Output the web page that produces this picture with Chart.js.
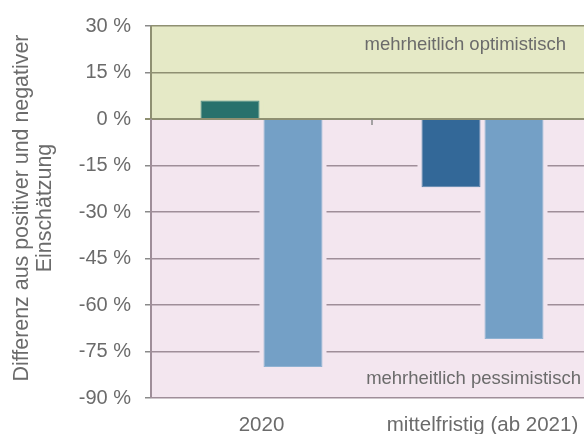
<!DOCTYPE html>
<html>
<head>
<meta charset="utf-8">
<script src="https://cdn.jsdelivr.net/npm/chart.js@4.4.0/dist/chart.umd.min.js"></script>
<style>
  html, body { margin: 0; padding: 0; overflow: hidden; background: #fff; }
</style>
</head>
<body>
<canvas id="chart" width="600" height="434"></canvas>
<script>
// --- Daten ---
const KATEGORIEN = ['2020', 'mittelfristig (ab 2021)'];
const WERTE_A = [6, -22];
const WERTE_B = [-80, -71];
const Y_MIN = -90;
const Y_MAX = 30;
const Y_SCHRITT = 15;
const Y_TITEL = ['Differenz aus positiver und negativer', 'Einschätzung'];

// --- Farben ---
const FARBEN_A = ['#28716c', '#336898'];
const RAND_A = ['#4f8f8a', '#5a83aa'];
const FARBE_B = '#74a0c6';
const GRUEN = '#e5e9c6';
const ROSA = '#f3e6ef';
const LINIE_GRUEN = '#8f9072';
const LINIE_ROSA = '#9f8e99';
const TEXT = '#6b6b6b';
const SCHRIFT = "'Liberation Sans', Arial, sans-serif";

const flaechen = {
  id: 'flaechen',
  beforeDraw(chart) {
    const { ctx, chartArea: a, scales: { y } } = chart;
    const y0 = y.getPixelForValue(0);
    ctx.save();
    ctx.fillStyle = GRUEN;
    ctx.fillRect(a.left, a.top, a.right - a.left, y0 - a.top);
    ctx.fillStyle = ROSA;
    ctx.fillRect(a.left, y0, a.right - a.left, a.bottom - y0);
    ctx.restore();
  },
  beforeDatasetsDraw(chart) {
    // Luecke in den Gitterlinien neben den Balken
    const { ctx } = chart;
    ctx.save();
    chart.data.datasets.forEach((ds, i) => {
      chart.getDatasetMeta(i).data.forEach(bar => {
        const { x, y, base, width } = bar.getProps(['x', 'y', 'base', 'width'], true);
        ctx.fillStyle = y < base ? GRUEN : ROSA;
        ctx.fillRect(x - width / 2 - 4, Math.min(y, base), width + 8, Math.abs(base - y));
      });
    });
    ctx.restore();
  },
  afterDatasetsDraw(chart) {
    const { ctx, chartArea: a, scales: { x, y } } = chart;
    const y0 = y.getPixelForValue(0);
    ctx.save();
    ctx.strokeStyle = LINIE_GRUEN;
    ctx.lineWidth = 2;
    ctx.beginPath();
    ctx.moveTo(a.left - 6, y0);
    ctx.lineTo(a.right, y0);
    ctx.stroke();
    // kleiner Teilstrich zwischen den Kategorien
    const xm = (x.getPixelForValue(0) + x.getPixelForValue(1)) / 2;
    ctx.strokeStyle = '#8a8a8a';
    ctx.lineWidth = 1.5;
    ctx.beginPath();
    ctx.moveTo(xm, y0);
    ctx.lineTo(xm, y0 + 6);
    ctx.stroke();
    // linke Achse
    ctx.lineWidth = 2;
    ctx.strokeStyle = LINIE_GRUEN;
    ctx.beginPath();
    ctx.moveTo(a.left, a.top);
    ctx.lineTo(a.left, y0);
    ctx.stroke();
    ctx.strokeStyle = LINIE_ROSA;
    ctx.beginPath();
    ctx.moveTo(a.left, y0);
    ctx.lineTo(a.left, a.bottom);
    ctx.stroke();
    // Beschriftung der Bereiche
    ctx.fillStyle = TEXT;
    ctx.font = '18.5px ' + SCHRIFT;
    ctx.textBaseline = 'middle';
    ctx.textAlign = 'right';
    ctx.fillText('mehrheitlich optimistisch', a.right - 27, y.getPixelForValue(24));
    ctx.fillText('mehrheitlich pessimistisch', a.right - 12, y.getPixelForValue(-84));
    // Achsentitel
    ctx.font = '21.4px ' + SCHRIFT;
    ctx.textAlign = 'center';
    ctx.textBaseline = 'alphabetic';
    const ym = (a.top + a.bottom) / 2 - 4;
    [28, 51].forEach((bx, i) => {
      ctx.save();
      ctx.translate(bx, ym);
      ctx.rotate(-Math.PI / 2);
      ctx.fillText(Y_TITEL[i], 0, 0);
      ctx.restore();
    });
    ctx.restore();
  }
};

new Chart(document.getElementById('chart'), {
  type: 'bar',
  data: {
    labels: KATEGORIEN,
    datasets: [
      {
        data: WERTE_A,
        backgroundColor: FARBEN_A,
        borderColor: RAND_A,
        borderWidth: 1,
        categoryPercentage: 0.57,
        barPercentage: 0.937,
      },
      {
        data: WERTE_B,
        backgroundColor: FARBE_B,
        borderColor: '#8fb2d2',
        borderWidth: 1,
        categoryPercentage: 0.57,
        barPercentage: 0.937,
      },
    ],
  },
  options: {
    responsive: false,
    animation: false,
    layout: { padding: { top: 23, right: 7, left: 0, bottom: 0 } },
    plugins: {
      legend: { display: false },
      tooltip: { enabled: false },
    },
    scales: {
      x: {
        grid: { display: false, drawTicks: false },
        border: { display: false },
        ticks: {
          color: TEXT,
          font: { family: SCHRIFT, size: 20.5 },
          padding: 15,
          maxRotation: 0,
        },
        afterFit: scale => { scale.height = 36; },
      },
      y: {
        min: Y_MIN,
        max: Y_MAX,
        border: { display: false },
        grid: {
          lineWidth: 1.5,
          tickLength: 6,
          color: c => (c.tick.value > 0 ? LINIE_GRUEN : c.tick.value === 0 ? 'rgba(0,0,0,0)' : LINIE_ROSA),
          tickColor: '#8a8a8a',
        },
        ticks: {
          stepSize: Y_SCHRITT,
          color: TEXT,
          font: { family: SCHRIFT, size: 20 },
          padding: 14,
          callback: v => v + ' %',
        },
        afterFit: scale => { scale.width = 151; },
      },
    },
  },
  plugins: [flaechen],
});
</script>
</body>
</html>
